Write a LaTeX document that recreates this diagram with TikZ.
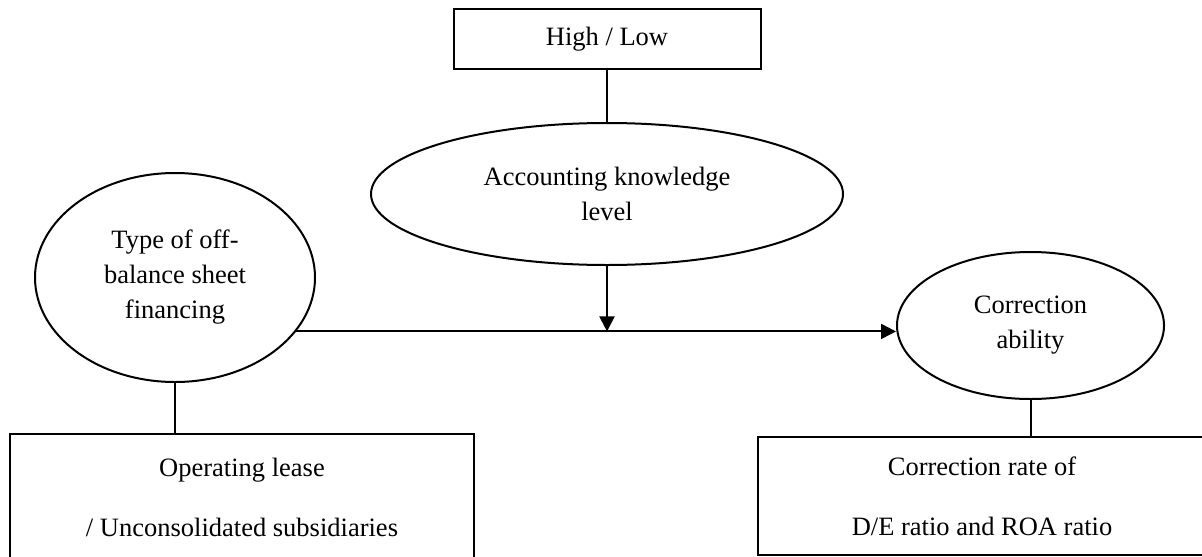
\documentclass[tikz,border=0pt]{standalone}
\usepackage{fontspec}
\setmainfont{Liberation Serif}
\usetikzlibrary{shapes.geometric, arrows.meta}

\tikzset{
  varbox/.style={draw, line width=1pt, rectangle, inner sep=0pt, align=center},
  varoval/.style={draw, line width=1pt, ellipse, inner sep=0pt, align=center},
  link/.style={line width=1pt},
  effect/.style={line width=1pt, -{Triangle[length=7.5pt, width=7.5pt]}}
}

\begin{document}
\begin{tikzpicture}[x=0.5pt, y=-0.5pt, font=\fontsize{13.25}{17.5}\selectfont]
  \useasboundingbox (0,0) rectangle (1202,556);
  \clip (0,0) rectangle (1202,556);
  % Moderator
  \node[varbox, minimum width=153.5pt, minimum height=30pt] (level) at (607,39) {High / Low};
  \node[varoval, minimum width=236pt, minimum height=71pt] (know) at (607,194)
    {Accounting knowledge\\level};
  % Independent variable
  \node[varoval, minimum width=140pt, minimum height=104.5pt] (type) at (175,277.5)
    {Type of off-\\balance sheet\\financing};
  \node[varbox, minimum width=232pt, minimum height=63pt] (lease) at (242,497)
    {Operating lease\\[12.5pt]/ Unconsolidated subsidiaries};
  % Dependent variable
  \node[varoval, minimum width=133.5pt, minimum height=73.5pt] (corr) at (1030.5,325.5)
    {Correction\\ability};
  \node[varbox, minimum width=224pt, minimum height=59pt] (rate) at (982,496)
    {Correction rate of\\[12.5pt]D/E ratio and ROA ratio};
  % Connectors
  \coordinate (join) at (know.south |- type.-24.5);
  \draw[link] (level) -- (know);
  \draw[effect] (type.-24.5) -- (type.-24.5 -| corr.west);
  \draw[effect] (know.south) -- (join);
  \draw[link] (type.south) -- (type.south |- lease.north);
  \draw[link] (corr.south) -- (corr.south |- rate.north);
\end{tikzpicture}
\end{document}
